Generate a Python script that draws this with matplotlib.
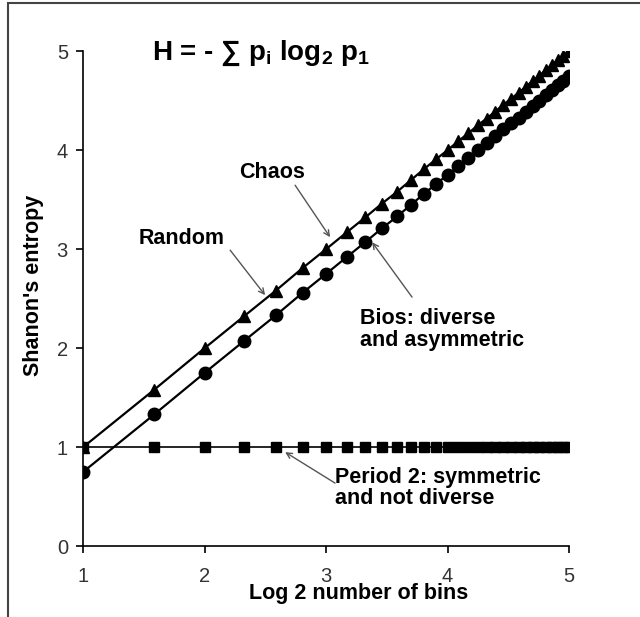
import matplotlib.pyplot as plt
import matplotlib.patches as mpatches
import numpy as np

plt.rcParams['font.family'] = ['Liberation Sans', 'DejaVu Sans']
plt.rcParams['mathtext.fontset'] = 'custom'
plt.rcParams['mathtext.rm'] = 'Liberation Sans:bold'

# number of bins 2..32, plotted on log2 axis
bins = list(range(2, 33))

random_h = [1.00, 1.58, 2.00, 2.32, 2.58, 2.81, 3.00, 3.17, 3.32, 3.46, 3.58,
            3.70, 3.81, 3.91, 4.00, 4.09, 4.17, 4.25, 4.32, 4.39, 4.46, 4.52,
            4.58, 4.64, 4.70, 4.75, 4.81, 4.86, 4.91, 4.95, 5.00]
bios_h = [0.75, 1.33, 1.75, 2.07, 2.33, 2.56, 2.75, 2.92, 3.07, 3.21, 3.33,
          3.45, 3.56, 3.66, 3.75, 3.84, 3.92, 4.00, 4.07, 4.14, 4.21, 4.27,
          4.33, 4.39, 4.45, 4.50, 4.56, 4.61, 4.66, 4.70, 4.75]
period2_h = [1.00] * 31

x = np.log2(bins)

fig = plt.figure(figsize=(6.40, 6.17), dpi=100)
ax = fig.add_axes([0.130, 0.115, 0.759, 0.802])

ax.plot(x, random_h, color='black', lw=1.6, marker='^', ms=8, zorder=3)
ax.plot(x, bios_h, color='black', lw=1.6, marker='o', ms=9, zorder=3)
ax.plot(x, period2_h, color='black', lw=1.2, marker='s', ms=6.5, zorder=4)

ax.set_xlim(1, 5)
ax.set_ylim(0, 5)
ax.set_xticks([1, 2, 3, 4, 5])
ax.set_yticks([0, 1, 2, 3, 4, 5])
for s in ['top', 'right']:
    ax.spines[s].set_visible(False)
for s in ['left', 'bottom']:
    ax.spines[s].set_linewidth(1.2)
ax.tick_params(direction='out', length=5, width=1.2, labelsize=14.5,
               labelcolor='#333333')
ax.tick_params(axis='x', pad=10)
ax.tick_params(axis='y', pad=6)

ax.set_xlabel('Log 2 number of bins', fontsize=15.5, fontweight='bold', va='center')
ax.xaxis.set_label_coords(0.566, -0.095)
ax.set_ylabel("Shanon's entropy", fontsize=15.5, fontweight='bold', va='center')
ax.yaxis.set_label_coords(-0.103, 0.527)

fig.text(0.2375, 0.914, r'H = - ∑ p$_{\rm i}$ log$_{\rm 2}$ p$_{\rm 1}$',
         fontsize=20, fontweight='bold', va='center', ha='left')

arr = dict(arrowstyle='->', color='#555555', lw=1, shrinkA=0, shrinkB=0)
tkw = dict(fontsize=15.5, fontweight='bold', linespacing=1.05)

ax.text(2.556, 3.778, 'Chaos', ha='center', va='center', **tkw)
ax.annotate('', xy=(3.033, 3.121), xytext=(2.745, 3.646), arrowprops=arr)

ax.text(1.807, 3.111, 'Random', ha='center', va='center', **tkw)
ax.annotate('', xy=(2.498, 2.535), xytext=(2.21, 2.99), arrowprops=arr)

ax.text(3.28, 2.187, 'Bios: diverse\nand asymmetric', ha='left', va='center', **tkw)
ax.annotate('', xy=(3.379, 3.07), xytext=(3.708, 2.515), arrowprops=arr)

ax.text(3.074, 0.586, 'Period 2: symmetric\nand not diverse', ha='left',
        va='center', **tkw)
ax.annotate('', xy=(2.663, 0.949), xytext=(3.074, 0.636), arrowprops=arr)

frame = mpatches.Rectangle((8 / 640, -0.1), 1.2, 1 - 3 / 617 + 0.1,
                           transform=fig.transFigure, fill=False,
                           edgecolor='#444444', lw=1.5)
fig.patches.append(frame)

fig.savefig('out.png', dpi=100)
